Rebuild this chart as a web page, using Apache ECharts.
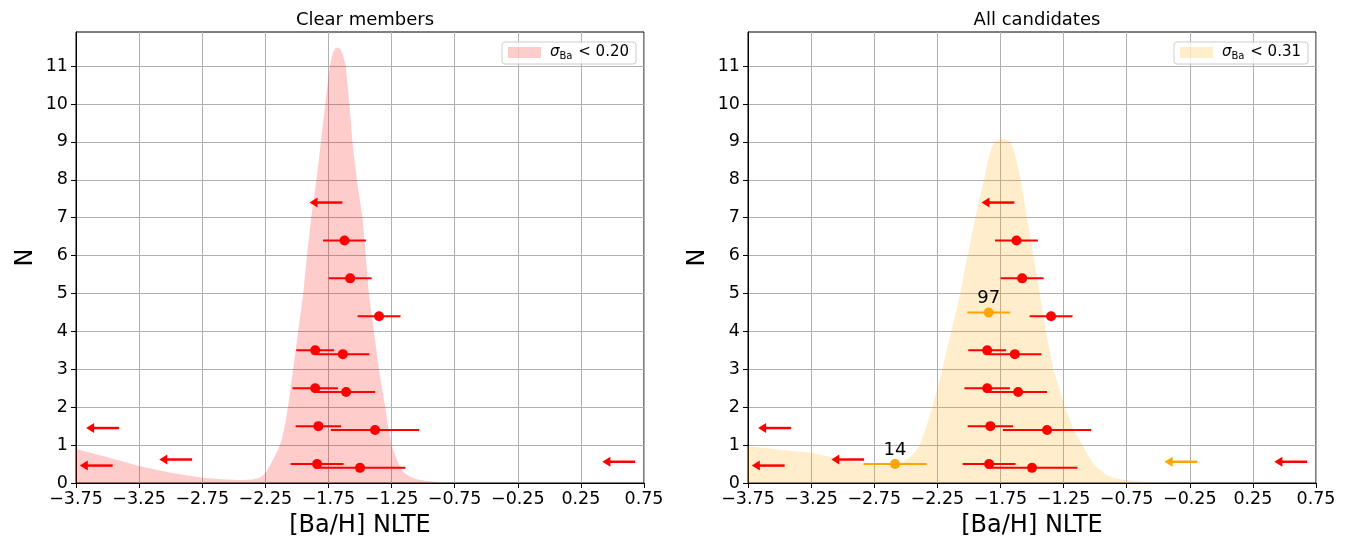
<!DOCTYPE html>
<html><head><meta charset="utf-8">
<script src="https://cdn.jsdelivr.net/npm/echarts@6/dist/echarts.min.js"></script>
<style>html,body{margin:0;padding:0;background:#fff}#c{width:1348px;height:544px}</style>
</head><body><div id="c"></div>
<script>
// ---- data ----
const xTicks = [-3.75, -3.25, -2.75, -2.25, -1.75, -1.25, -0.75, -0.25, 0.25, 0.75];
const yTicks = [0, 1, 2, 3, 4, 5, 6, 7, 8, 9, 10, 11];

// KDE of clear members (sigma_Ba < 0.20)
const kdeClearX = [-3.75, -3.5, -3.25, -3.0, -2.75, -2.6, -2.45, -2.35, -2.30, -2.27, -2.24, -2.21, -2.18, -2.15, -2.12, -2.09, -2.06, -2.03, -1.99, -1.95, -1.92, -1.887, -1.845, -1.81, -1.775, -1.74, -1.715, -1.695, -1.676, -1.655, -1.635, -1.613, -1.584, -1.56, -1.525, -1.48, -1.455, -1.43, -1.39, -1.35, -1.30, -1.275, -1.25, -1.22, -1.195, -1.16, -1.11, -1.05, -0.97, -0.88, -0.75, 0.75];
const kdeClearY = [0.90, 0.68, 0.45, 0.27, 0.14, 0.10, 0.08, 0.09, 0.13, 0.20, 0.31, 0.48, 0.68, 0.88, 1.15, 1.6, 2.25, 3.0, 4.0, 5.0, 6.0, 7.0, 8.0, 9.0, 10.0, 11.0, 11.35, 11.47, 11.49, 11.45, 11.3, 11.0, 10.0, 9.0, 8.0, 7.0, 6.0, 5.0, 4.0, 3.0, 2.0, 1.45, 1.0, 0.72, 0.5, 0.3, 0.18, 0.10, 0.05, 0.02, 0.0, 0.0];

// KDE of all candidates (sigma_Ba < 0.31)
const kdeAllX = [-3.75, -3.5, -3.25, -3.0, -2.85, -2.75, -2.68, -2.6, -2.55, -2.5, -2.47, -2.43, -2.39, -2.345, -2.29, -2.25, -2.21, -2.14, -2.07, -2.01, -1.95, -1.88, -1.85, -1.82, -1.79, -1.76, -1.73, -1.70, -1.67, -1.64, -1.59, -1.54, -1.49, -1.44, -1.39, -1.33, -1.24, -1.17, -1.10, -1.06, -1.02, -0.97, -0.92, -0.85, -0.75, -0.57, -0.3, 0.75];
const kdeAllY = [0.97, 0.88, 0.80, 0.62, 0.52, 0.46, 0.45, 0.48, 0.53, 0.60, 0.67, 0.80, 1.0, 1.41, 2.0, 2.5, 3.0, 4.0, 5.0, 6.0, 7.0, 8.0, 8.5, 8.85, 9.02, 9.07, 9.08, 9.06, 8.98, 8.75, 8.0, 7.0, 6.0, 5.0, 4.0, 3.0, 2.0, 1.4, 1.0, 0.75, 0.54, 0.37, 0.23, 0.13, 0.07, 0.02, 0.0, 0.0];

// clear members: [Ba/H], N position, x error
const memX   = [-1.623, -1.578, -1.349, -1.855, -1.636, -1.855, -1.61, -1.83, -1.381, -1.84, -1.50];
const memN   = [6.4, 5.4, 4.4, 3.5, 3.4, 2.5, 2.4, 1.5, 1.4, 0.5, 0.4];
const memErr = [0.17, 0.17, 0.17, 0.15, 0.21, 0.18, 0.23, 0.18, 0.35, 0.21, 0.36];

// upper limits (red)
const limX = [-1.64, -3.41, -2.83, -3.46, 0.68];
const limN = [7.4, 1.45, 0.62, 0.46, 0.56];

// extra candidates (orange)
const candX = [-1.843, -2.585];
const candN = [4.5, 0.5];
const candErr = [0.17, 0.25];
const candLabel = ['97', '14'];
const candLimX = [-0.19];
const candLimN = [0.56];
const arrowLen = 0.26;

// ---- chart ----
const F = 'DejaVu Sans';
const RED = '#ff0000', ORANGE = '#ffa500';
const fmt = v => (Math.round(v * 100) / 100).toFixed(2).replace('-', '\u2212');

function xAxisCfg(gi) {
  return {
    type: 'value', gridIndex: gi, min: -3.75, max: 0.75,
    name: '[Ba/H] NLTE', nameLocation: 'middle', nameGap: 31,
    nameTextStyle: { fontSize: 24, color: '#000', fontFamily: F },
    axisLine: { onZero: false, lineStyle: { color: '#000', width: 1 } },
    axisTick: { show: true, length: 5, customValues: xTicks, lineStyle: { color: '#000', width: 1 } },
    axisLabel: { customValues: xTicks, formatter: fmt, fontSize: 17.5, color: '#000', margin: 7, fontFamily: F },
    splitLine: { show: true, lineStyle: { color: '#b0b0b0', width: 1 } }
  };
}
function yAxisCfg(gi) {
  return {
    type: 'value', gridIndex: gi, min: 0, max: 11.9,
    name: 'N', nameLocation: 'middle', nameGap: 38,
    nameTextStyle: { fontSize: 24, color: '#000', fontFamily: F },
    axisLine: { onZero: false, lineStyle: { color: '#000', width: 1 } },
    axisTick: { show: true, length: 5, customValues: yTicks, lineStyle: { color: '#000', width: 1 } },
    axisLabel: { customValues: yTicks, fontSize: 17.5, color: '#000', margin: 8, fontFamily: F },
    splitLine: { show: true, lineStyle: { color: '#b0b0b0', width: 1 } }
  };
}
const zip2 = (a, b) => a.map((v, i) => [v, b[i]]);
const zip3 = (a, b, c) => a.map((v, i) => [v, b[i], c[i]]);

function errSeries(gi, data, color) {
  return {
    type: 'custom', xAxisIndex: gi, yAxisIndex: gi, z: 3, silent: true,
    data: data, encode: { x: 0, y: 1 },
    renderItem: (params, api) => {
      const x = api.value(0), y = api.value(1), e = api.value(2);
      const p1 = api.coord([x - e, y]), p2 = api.coord([x + e, y]);
      return { type: 'line', shape: { x1: p1[0], y1: p1[1], x2: p2[0], y2: p2[1] },
               style: { stroke: color, lineWidth: 2 } };
    }
  };
}
function arrowSeries(gi, data, color) {
  return {
    type: 'custom', xAxisIndex: gi, yAxisIndex: gi, z: 4, silent: true,
    data: data, encode: { x: 0, y: 1 },
    renderItem: (params, api) => {
      const x = api.value(0), y = api.value(1);
      const p1 = api.coord([x, y]), p2 = api.coord([x - arrowLen, y]);
      return { type: 'group', children: [
        { type: 'line', shape: { x1: p1[0], y1: p1[1], x2: p2[0] + 6, y2: p2[1] },
          style: { stroke: color, lineWidth: 2.5 } },
        { type: 'polygon', shape: { points: [[p2[0], p2[1]], [p2[0] + 8, p2[1] - 5], [p2[0] + 8, p2[1] + 5]] },
          style: { fill: color } }
      ] };
    }
  };
}
function kdeSeries(gi, name, xs, ys, color) {
  return {
    name: name, type: 'line', xAxisIndex: gi, yAxisIndex: gi, z: 1,
    data: zip2(xs, ys), smooth: false, showSymbol: false, symbol: 'none',
    color: color, itemStyle: { color: color },
    lineStyle: { width: 0, color: color }, areaStyle: { color: color, opacity: 1 }
  };
}
function pointSeries(gi, data, color, withLabel) {
  return {
    type: 'scatter', xAxisIndex: gi, yAxisIndex: gi, z: 5, silent: true,
    data: data, symbolSize: 10, itemStyle: { color: color, opacity: 1 },
    label: withLabel ? { show: true, position: 'top', distance: 0, formatter: p => p.value[3],
      fontSize: 18, color: '#000', fontFamily: F } : { show: false }
  };
}
function legendCfg(name, right, txt) {
  return {
    data: [name], right: right, top: 42, orient: 'vertical',
    icon: 'rect', itemWidth: 33, itemHeight: 11,
    padding: [3, 7, 3, 6], borderColor: '#cccccc', borderWidth: 1, borderRadius: 3,
    backgroundColor: 'rgba(255,255,255,0.8)', selectedMode: false,
    formatter: () => '{g| }{a|σ}{b|Ba}{c| < ' + txt + '}',
    textStyle: { fontFamily: F, color: '#000', rich: {
      g: { width: 4, fontSize: 14 },
      a: { fontStyle: 'italic', fontSize: 15, fontFamily: F },
      b: { fontSize: 10, fontFamily: F, padding: [7, 1, 0, 0] },
      c: { fontSize: 15, fontFamily: F }
    } }
  };
}

const chart = echarts.init(document.getElementById('c'), null, { renderer: 'canvas' });
chart.setOption({
  backgroundColor: '#fff',
  animation: false,
  title: [
    { text: 'Clear members', left: 360, top: 6, textAlign: 'center',
      textStyle: { fontSize: 18, fontWeight: 'normal', fontFamily: F, color: '#000' } },
    { text: 'All candidates', left: 1032, top: 6, textAlign: 'center',
      textStyle: { fontSize: 18, fontWeight: 'normal', fontFamily: F, color: '#000' } }
  ],
  legend: [
    legendCfg('clear', 712, '0.20'),
    legendCfg('all', 40, '0.31')
  ],
  grid: [
    { left: 76, right: 704, top: 32, bottom: 61, show: true, borderColor: '#000', borderWidth: 1, backgroundColor: '#fff' },
    { left: 748, right: 32, top: 32, bottom: 61, show: true, borderColor: '#000', borderWidth: 1, backgroundColor: '#fff' }
  ],
  xAxis: [xAxisCfg(0), xAxisCfg(1)],
  yAxis: [yAxisCfg(0), yAxisCfg(1)],
  series: [
    kdeSeries(0, 'clear', kdeClearX, kdeClearY, 'rgba(255,0,0,0.2)'),
    errSeries(0, zip3(memX, memN, memErr), RED),
    pointSeries(0, zip2(memX, memN), RED, false),
    arrowSeries(0, zip2(limX, limN), RED),

    kdeSeries(1, 'all', kdeAllX, kdeAllY, 'rgba(255,165,0,0.2)'),
    errSeries(1, zip3(memX, memN, memErr), RED),
    pointSeries(1, zip2(memX, memN), RED, false),
    arrowSeries(1, zip2(limX, limN), RED),
    errSeries(1, zip3(candX, candN, candErr), ORANGE),
    pointSeries(1, candX.map((v, i) => [v, candN[i], candErr[i], candLabel[i]]), ORANGE, true),
    arrowSeries(1, zip2(candLimX, candLimN), ORANGE)
  ]
});
</script>
</body></html>
